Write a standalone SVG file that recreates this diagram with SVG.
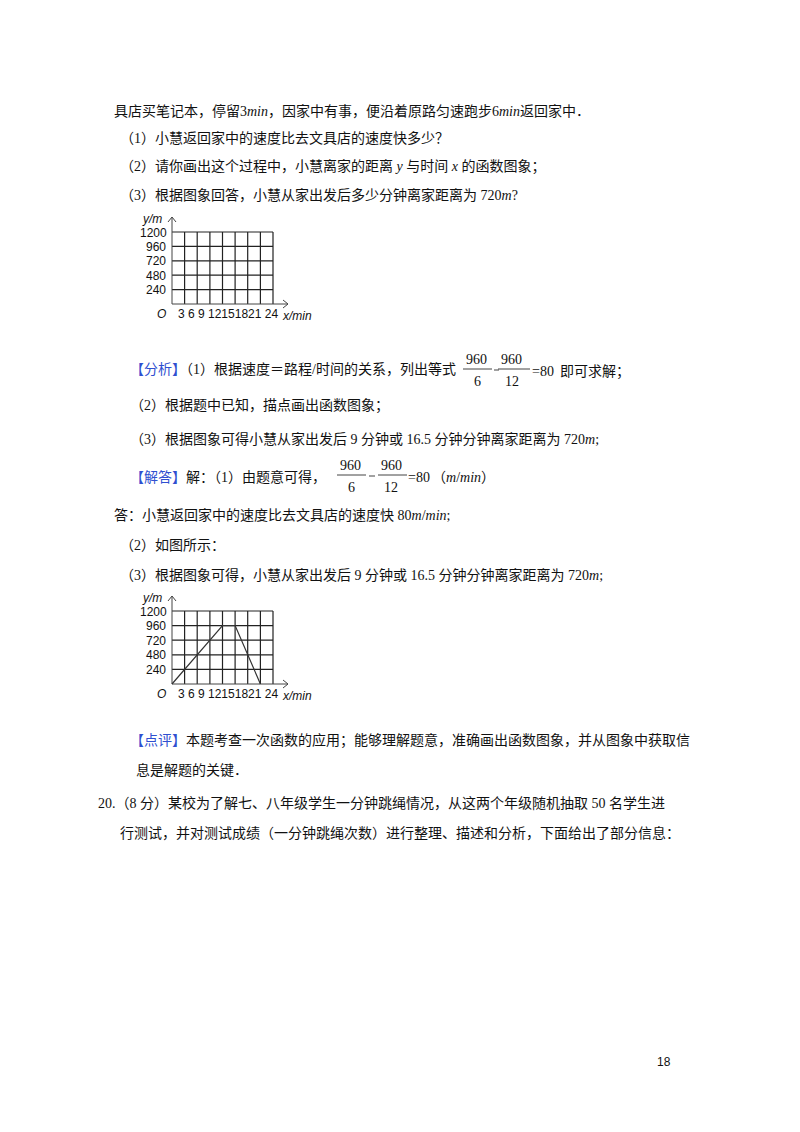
<svg xmlns="http://www.w3.org/2000/svg" width="800" height="1132" viewBox="0 0 800 1132">
<style>
text{font-family:"Liberation Serif","Noto Sans CJK SC",serif;font-size:14px;fill:#111}
.b{fill:#2f4fd0}
.s{font-family:"Liberation Sans",sans-serif;font-size:12px}
.g{stroke:#222;stroke-width:1.2;fill:none}
.ax{stroke:#444;stroke-width:1;fill:none}
.ln{stroke:#444;stroke-width:1;fill:none}
.i{font-style:italic}
</style>
<rect width="800" height="1132" fill="#fff"/>
<text x="114" y="116">具店买笔记本，停留3<tspan class="i">min</tspan>，因家中有事，便沿着原路匀速跑步6<tspan class="i">min</tspan>返回家中．</text>
<text x="120" y="143">（1）小慧返回家中的速度比去文具店的速度快多少？</text>
<text x="120" y="171">（2）请你画出这个过程中，小慧离家的距离 <tspan class="i">y</tspan> 与时间 <tspan class="i">x</tspan> 的函数图象；</text>
<text x="120" y="200">（3）根据图象回答，小慧从家出发后多少分钟离家距离为 720<tspan class="i">m</tspan>?</text>
<g id="graph1">
<path class="g" d="M172 232H273M172 246.4H273M172 260.8H273M172 275.2H273M172 289.6H273M184.6 232V304M197.2 232V304M209.9 232V304M222.5 232V304M235.1 232V304M247.7 232V304M260.4 232V304M273 232V304"/>
<path class="ax" d="M172 304V217M168 222L172 217L176 222M172 304H288M283 300L288 304L283 308"/>
<text x="143" y="223" class="s i" font-size="11">y/m</text>
<text x="140" y="237" class="s">1200</text><text x="146" y="251" class="s">960</text><text x="146" y="265" class="s">720</text><text x="146" y="280" class="s">480</text><text x="146" y="294" class="s">240</text>
<text x="157" y="318" class="s i">O</text>
<text x="178" y="318" class="s" font-size="11">3 6 9 12151821 24</text>
<text x="283" y="320" class="s i" font-size="11">x/min</text>
</g>
<text x="130" y="374"><tspan class="b">【分析】</tspan>（1）根据速度＝路程/时间的关系，列出等式</text>
<g class="s" font-size="14"><text x="466" y="364">960</text><text x="474" y="386">6</text><text x="501" y="364">960</text><text x="505" y="386">12</text><text x="532" y="376">=80</text></g>
<path class="ln" d="M463 369H492M494 370H499M498 369H530"/>
<text x="560" y="376">即可求解；</text>
<text x="130" y="410">（2）根据题中已知，描点画出函数图象；</text>
<text x="130" y="444">（3）根据图象可得小慧从家出发后 9 分钟或 16.5 分钟分钟离家距离为 720<tspan class="i">m</tspan>;</text>
<g class="s" font-size="14"><text x="340" y="470">960</text><text x="348" y="492">6</text><text x="381" y="470">960</text><text x="384" y="492">12</text><text x="408" y="482">=80</text></g>
<path class="ln" d="M337 475H366M369 476H375M378 475H407"/>
<text x="130" y="482"><tspan class="b">【解答】</tspan>解：（1）由题意可得，</text>
<text x="432" y="482">（<tspan class="i">m</tspan>/<tspan class="i">min</tspan>）</text>
<text x="114" y="520">答：小慧返回家中的速度比去文具店的速度快 80<tspan class="i">m</tspan>/<tspan class="i">min</tspan>;</text>
<text x="120" y="550">（2）如图所示：</text>
<text x="120" y="580">（3）根据图象可得，小慧从家出发后 9 分钟或 16.5 分钟分钟离家距离为 720<tspan class="i">m</tspan>;</text>
<g id="graph2">
<path class="g" d="M172 611H273M172 625.6H273M172 640.2H273M172 654.8H273M172 669.4H273M184.6 611V684M197.2 611V684M209.9 611V684M222.5 611V684M235.1 611V684M247.7 611V684M260.4 611V684M273 611V684"/>
<path class="ax" d="M172 684V596M168 601L172 596L176 601M172 684H288M283 680L288 684L283 688"/>
<path d="M172 684L222.5 625.6H235.1L260.4 684" stroke="#333" stroke-width="1.2" fill="none"/>
<text x="143" y="602" class="s i" font-size="11">y/m</text>
<text x="140" y="616" class="s">1200</text><text x="146" y="630" class="s">960</text><text x="146" y="645" class="s">720</text><text x="146" y="659" class="s">480</text><text x="146" y="674" class="s">240</text>
<text x="157" y="698" class="s i">O</text>
<text x="178" y="698" class="s" font-size="11">3 6 9 12151821 24</text>
<text x="283" y="700" class="s i" font-size="11">x/min</text>
</g>
<text x="130" y="745"><tspan class="b">【点评】</tspan>本题考查一次函数的应用；能够理解题意，准确画出函数图象，并从图象中获取信</text>
<text x="136" y="775">息是解题的关键．</text>
<text x="98" y="808">20.（8 分）某校为了解七、八年级学生一分钟跳绳情况，从这两个年级随机抽取 50 名学生进</text>
<text x="120" y="838">行测试，并对测试成绩（一分钟跳绳次数）进行整理、描述和分析，下面给出了部分信息：</text>
<text x="657" y="1066" class="s" font-size="11">18</text>
</svg>
